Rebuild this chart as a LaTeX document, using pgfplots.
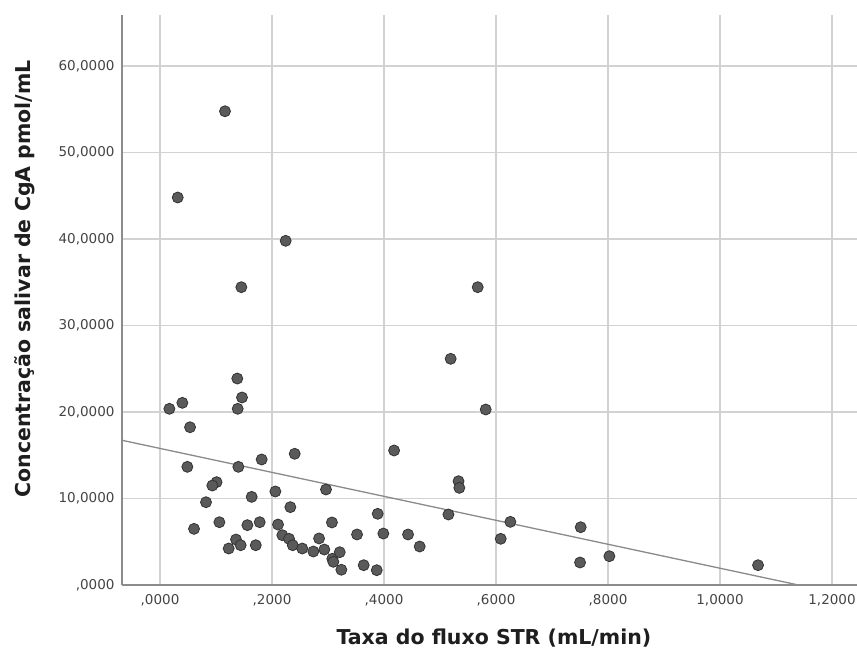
\documentclass[border=0pt]{standalone}
\usepackage{fontspec}
\setmainfont{DejaVu Sans}
\usepackage{pgfplots}
\usepackage{pgfplotstable}
\pgfplotsset{compat=1.18}
\definecolor{gridc}{HTML}{D2D2D2}
\definecolor{spinec}{HTML}{8C8C8C}
\definecolor{markf}{HTML}{5A5A5A}
\definecolor{markd}{HTML}{333333}
\definecolor{regc}{HTML}{8A8A8A}
\definecolor{tickc}{HTML}{444444}
\definecolor{labc}{HTML}{1E1E1E}

\pgfplotstableread{
x y
0.0167 20.37
0.0399 21.06
0.0536 18.24
0.0488 13.66
0.1380 23.87
0.1464 21.68
0.1387 20.37
0.1399 13.66
0.1815 14.51
0.2405 15.17
0.4180 15.55
0.5190 26.15
0.5816 20.29
0.5330 12.00
0.5345 11.23
0.5150 8.15
0.1010 11.89
0.0934 11.50
0.0821 9.57
0.0607 6.49
0.1060 7.26
0.1637 10.19
0.2060 10.81
0.2964 11.04
0.2327 9.00
0.1560 6.92
0.1780 7.26
0.2107 6.99
0.3070 7.23
0.3887 8.23
0.1357 5.26
0.1226 4.22
0.1440 4.60
0.1710 4.60
0.2184 5.76
0.2304 5.34
0.2370 4.60
0.2540 4.22
0.2738 3.87
0.2840 5.38
0.2934 4.10
0.3077 3.03
0.3095 2.68
0.3209 3.79
0.3238 1.76
0.3518 5.84
0.3637 2.29
0.3870 1.71
0.3988 5.95
0.4429 5.84
0.4637 4.45
0.6256 7.30
0.6084 5.34
0.7512 6.68
0.7500 2.60
0.8024 3.33
1.0679 2.29
0.1160 54.77
0.0316 44.80
0.2244 39.79
0.1452 34.43
0.5673 34.43
}\datatable

\begin{document}
\begin{tikzpicture}[x=1pt,y=1pt]
\useasboundingbox (-122,-70) rectangle (735,585);
\begin{axis}[
  at={(0,0)}, anchor=south west,
  scale only axis, width=735pt, height=570pt,
  xmin=-0.0679, xmax=1.2446, ymin=0, ymax=65.9,
  axis x line=bottom, axis y line=left,
  axis line style={draw=spinec, line width=1.6pt, -},
  major tick length=0pt,
  grid=major, grid style={draw=gridc, line width=1.5pt},
  xtick={0,0.2,0.4,0.6,0.8,1.0,1.2},
  xticklabels={{,0000},{,2000},{,4000},{,6000},{,8000},{1,0000},{1,2000}},
  ytick={0,10,20,30,40,50,60},
  yticklabels={{,0000},{10,0000},{20,0000},{30,0000},{40,0000},{50,0000},{60,0000}},
  /pgf/number format/assume math mode=true,
  tick label style={font=\fontsize{13.5}{16}\selectfont, text=tickc},
  xticklabel style={yshift=-6pt},
  yticklabel style={xshift=-4pt},
  xlabel={Taxa do fluxo STR (mL/min)},
  ylabel={Concentração salivar de CgA pmol/mL},
  xlabel style={at={(axis description cs:0.506,-0.093)}, anchor=center, font=\bfseries\fontsize{20.5}{23}\selectfont, text=labc},
  ylabel style={at={(axis description cs:-0.132,0.537)}, anchor=center, font=\bfseries\fontsize{20.5}{23}\selectfont, text=labc},
]
\addplot[regc, line width=1.3pt] coordinates {(-0.0679,16.73) (1.2446,-1.45)};
\addplot[only marks, mark=*, mark size=5.5pt, mark options={fill=markf, draw=markd, line width=0.8pt}] table[x=x,y=y] {\datatable};
\end{axis}
\end{tikzpicture}
\end{document}
